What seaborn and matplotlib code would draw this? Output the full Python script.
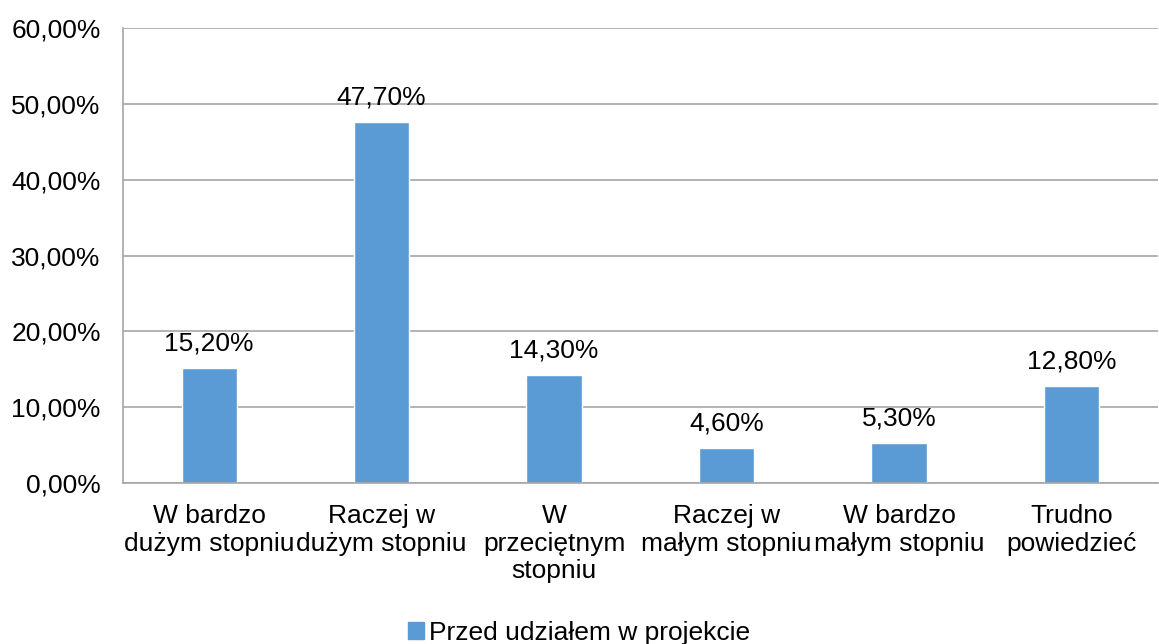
import matplotlib
matplotlib.use("Agg")
import matplotlib.pyplot as plt
import seaborn as sns
from matplotlib.patches import Patch
from matplotlib.ticker import FuncFormatter

kategorie = [
    "W bardzo\ndużym stopniu",
    "Raczej w\ndużym stopniu",
    "W\nprzeciętnym\nstopniu",
    "Raczej w\nmałym stopniu",
    "W bardzo\nmałym stopniu",
    "Trudno\npowiedzieć",
]
wartosci = [0.152, 0.477, 0.143, 0.046, 0.053, 0.128]
seria = "Przed udziałem w projekcie"
kolor = "#5B9BD5"

sns.set_theme(style="white")
plt.rcParams["font.family"] = ["Liberation Sans", "DejaVu Sans"]
plt.rcParams["text.color"] = "black"

def procent(v, _=None):
    return f"{v * 100:.2f}%".replace(".", ",")

fs = 19

fig = plt.figure(figsize=(11.59, 6.44), dpi=100)
ax = fig.add_axes([0.106, 0.25, 0.893, 0.706])

sns.barplot(x=kategorie, y=wartosci, color=kolor, width=0.32, saturation=1, ax=ax)

ax.set_ylim(0, 0.6)
ax.set_xlim(-0.5, 5.5)
ax.set_yticks([0, 0.1, 0.2, 0.3, 0.4, 0.5, 0.6])
ax.yaxis.set_major_formatter(FuncFormatter(procent))
ax.grid(axis="y", color="#a6a6a6", linewidth=1.2)
ax.set_axisbelow(True)
for s in ["top", "right"]:
    ax.spines[s].set_visible(False)
for s in ["left", "bottom"]:
    ax.spines[s].set_color("#a6a6a6")
    ax.spines[s].set_linewidth(1.2)
ax.tick_params(axis="both", labelsize=fs, colors="black", length=0)
ax.tick_params(axis="y", pad=16)
ax.tick_params(axis="x", pad=15)
for t in ax.get_xticklabels():
    t.set_linespacing(1.2)

for bar, v in zip(ax.patches, wartosci):
    ax.annotate(procent(v), (bar.get_x() + bar.get_width() / 2, v),
                xytext=(0, 9), textcoords="offset points",
                ha="center", va="bottom", fontsize=fs, color="black")

fig.legend(handles=[Patch(color=kolor, label=seria)], loc="lower center",
           bbox_to_anchor=(0.5, -0.038), frameon=False, fontsize=fs,
           handlelength=0.6, handleheight=0.6, handletextpad=0.2,
           labelcolor="black")

fig.savefig("out.png", dpi=100)
